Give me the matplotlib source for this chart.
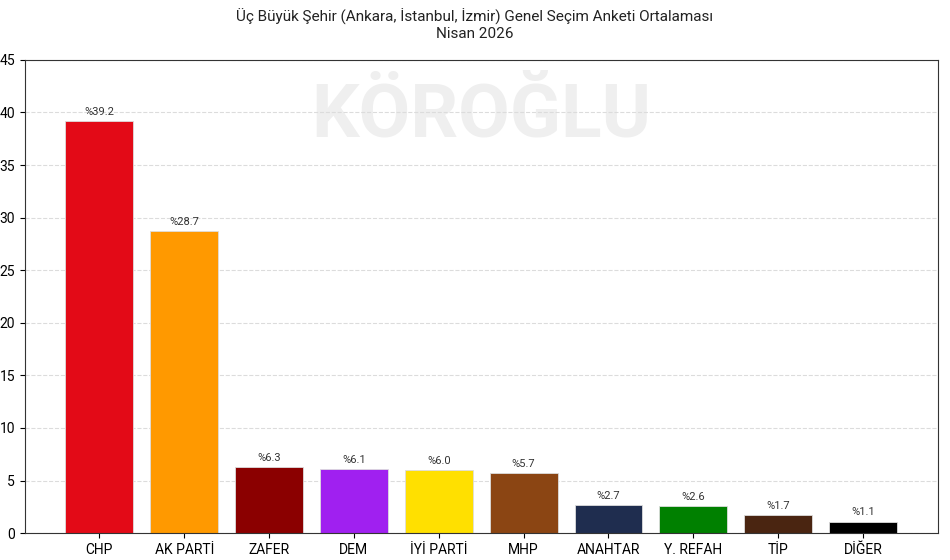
import matplotlib
matplotlib.use("Agg")
import matplotlib.pyplot as plt

parties = ["CHP", "AK PARTİ", "ZAFER", "DEM", "İYİ PARTİ", "MHP",
           "ANAHTAR", "Y. REFAH", "TİP", "DİĞER"]
shares = [39.2, 28.7, 6.3, 6.1, 6.0, 5.7, 2.7, 2.6, 1.7, 1.1]
colors = ["#E30A17", "#FF9900", "#8B0000", "#A020F0", "#FFE000",
          "#8B4513", "#1F2D4F", "#008000", "#4A2511", "#000000"]

plt.rcParams["font.family"] = ["Roboto", "DejaVu Sans"]

fig = plt.figure(figsize=(9.5, 5.6), dpi=100)
ax = fig.add_axes([0.026, 0.048, 0.961, 0.845])

# faint watermark behind the bars
ax.text(0.5, 0.88, "KÖROĞLU", transform=ax.transAxes, ha="center", va="center",
        fontsize=54, fontweight="bold", color="#efefef", zorder=0)

x = range(len(parties))
bars = ax.bar(x, shares, width=0.8, color=colors, edgecolor="#dddddd",
              linewidth=0.6, zorder=2)
for rect, v in zip(bars, shares):
    ax.annotate(f"%{v:.1f}", (rect.get_x() + rect.get_width() / 2, v),
                xytext=(0, 3), textcoords="offset points",
                ha="center", va="bottom", fontsize=8, color="#333333")

ax.set_xticks(list(x))
ax.set_xticklabels(parties, fontsize=10)
ax.set_yticks(range(0, 50, 5))
ax.tick_params(axis="y", labelsize=10)
ax.set_ylim(0, 45)
ax.set_xlim(-0.88, len(parties) - 1 + 0.88)
ax.grid(axis="y", linestyle="--", color="#dcdcdc", linewidth=0.8, zorder=1)
ax.set_axisbelow(True)
for s in ax.spines.values():
    s.set_color("#333333")

fig.suptitle("Üç Büyük Şehir (Ankara, İstanbul, İzmir) Genel Seçim Anketi Ortalaması\nNisan 2026",
             y=0.985, fontsize=11, color="#222222")

fig.savefig("out.png", dpi=100)
